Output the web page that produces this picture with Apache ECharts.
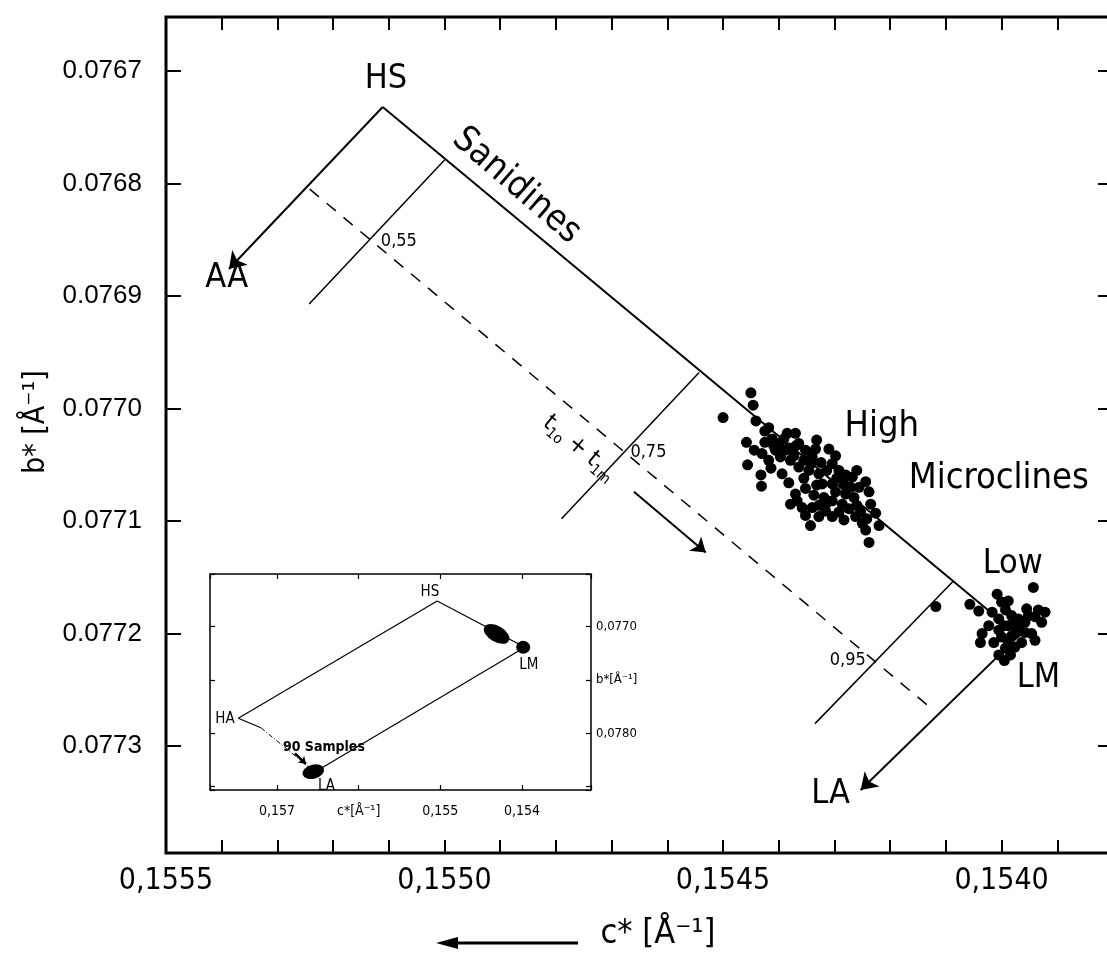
<!DOCTYPE html>
<html>
<head>
<meta charset="utf-8">
<title>b* vs c* - alkali feldspars</title>
<script src="https://cdn.jsdelivr.net/npm/echarts@6/dist/echarts.min.js"></script>
<style>
  html, body { margin: 0; padding: 0; background: #fff; }
  #chart { width: 1107px; height: 955px; }
</style>
</head>
<body>
<div id="chart"></div>
<script>
// ---- data: [c*, b*] in 1/Angstrom ----
const highMicroclines = [
    [0.154450, 0.076986], [0.154446, 0.076997], [0.154500, 0.077008], [0.154425, 0.077020],
    [0.154458, 0.077030], [0.154385, 0.077022], [0.154412, 0.077027], [0.154400, 0.077031],
    [0.154430, 0.077040], [0.154456, 0.077050], [0.154432, 0.077059], [0.154431, 0.077069],
    [0.154418, 0.077046], [0.154397, 0.077043], [0.154394, 0.077058], [0.154379, 0.077046],
    [0.154364, 0.077031], [0.154352, 0.077037], [0.154340, 0.077043], [0.154334, 0.077036],
    [0.154364, 0.077052], [0.154346, 0.077055], [0.154328, 0.077058], [0.154310, 0.077036],
    [0.154298, 0.077042], [0.154304, 0.077049], [0.154292, 0.077055], [0.154280, 0.077059],
    [0.154268, 0.077061], [0.154304, 0.077067], [0.154322, 0.077067], [0.154352, 0.077071],
    [0.154370, 0.077076], [0.154379, 0.077085], [0.154358, 0.077088], [0.154340, 0.077088],
    [0.154352, 0.077095], [0.154343, 0.077104], [0.154328, 0.077096], [0.154316, 0.077091],
    [0.154304, 0.077082], [0.154298, 0.077074], [0.154280, 0.077076], [0.154286, 0.077085],
    [0.154274, 0.077089], [0.154292, 0.077092], [0.154304, 0.077096], [0.154262, 0.077096],
    [0.154250, 0.077102], [0.154244, 0.077108], [0.154244, 0.077065], [0.154238, 0.077074],
    [0.154235, 0.077085], [0.154226, 0.077093], [0.154220, 0.077104], [0.154238, 0.077119],
    [0.154256, 0.077070], [0.154271, 0.077070], [0.154370, 0.077022], [0.154406, 0.077037],
    [0.154388, 0.077037], [0.154409, 0.077033], [0.154382, 0.077035], [0.154373, 0.077042],
    [0.154355, 0.077046], [0.154324, 0.077048], [0.154337, 0.077077], [0.154319, 0.077079],
    [0.154425, 0.077030], [0.154441, 0.077011], [0.154418, 0.077017], [0.154265, 0.077079],
    [0.154260, 0.077086], [0.154332, 0.077028], [0.154283, 0.077067], [0.154391, 0.077027],
    [0.154369, 0.077033], [0.154342, 0.077049], [0.154314, 0.077055], [0.154332, 0.077068],
    [0.154296, 0.077062], [0.154355, 0.077062], [0.154314, 0.077084], [0.154328, 0.077086],
    [0.154283, 0.077099], [0.154253, 0.077092], [0.154260, 0.077055], [0.154414, 0.077053],
    [0.154444, 0.077037], [0.154382, 0.077066], [0.154367, 0.077082], [0.154242, 0.077098]
];
const lowMicroclines = [
    [0.154118, 0.077176], [0.153943, 0.077159], [0.154057, 0.077174], [0.154041, 0.077180],
    [0.154008, 0.077165], [0.154000, 0.077172], [0.153993, 0.077179], [0.154017, 0.077181],
    [0.154005, 0.077187], [0.153982, 0.077184], [0.153970, 0.077187], [0.153955, 0.077178],
    [0.153934, 0.077179], [0.153922, 0.077181], [0.153940, 0.077185], [0.153988, 0.077193],
    [0.153970, 0.077196], [0.153958, 0.077199], [0.153946, 0.077200], [0.153940, 0.077206],
    [0.154035, 0.077200], [0.154038, 0.077208], [0.154014, 0.077208], [0.154000, 0.077203],
    [0.153993, 0.077213], [0.153976, 0.077212], [0.153964, 0.077208], [0.154005, 0.077219],
    [0.153995, 0.077224], [0.153982, 0.077202], [0.154005, 0.077197], [0.153979, 0.077191],
    [0.153958, 0.077190], [0.153988, 0.077171], [0.153928, 0.077190], [0.153984, 0.077219],
    [0.153996, 0.077193], [0.153973, 0.077199], [0.153952, 0.077184], [0.154023, 0.077193],
    [0.153988, 0.077208]
];

// end members of the main diagram
const HS = [0.155111, 0.076732];
const AA = [0.155387, 0.076876];
const LM = [0.153969, 0.077202];
const LA = [0.154253, 0.077339];

// lines of constant t1o + t1m
const isoValues = ['0,55', '0,75', '0,95'];
const isoLines = [
    [[0.155000, 0.076779], [0.155243, 0.076907]],
    [[0.154543, 0.076968], [0.154790, 0.077098]],
    [[0.154086, 0.077153], [0.154335, 0.077280]]
];
const isoLabelCoords = [[0.155082, 0.076851], [0.154634, 0.077039], [0.154276, 0.077224]];
const dashedLine = [[0.155242, 0.076805], [0.154125, 0.077267]];
const trendArrow = [[0.154660, 0.077074], [0.154531, 0.077128]];

const labelNames = ['HS', 'AA', 'Sanidines', 'High', 'Microclines', 'Low', 'LM', 'LA'];
const labelCoords = [
    [0.155105, 0.076707], [0.155391, 0.076884], [0.154871, 0.076802], [0.154215, 0.077016],
    [0.154005, 0.077062], [0.153980, 0.077138], [0.153934, 0.077240], [0.154307, 0.077343]
];
const trendLabelCoord = [0.154758, 0.077035];

// inset: whole feldspar quadrilateral
const insetHS = [0.155038, 0.076759];
const insetLM = [0.153965, 0.077193];
const insetLA = [0.156535, 0.078363];
const insetHA = [0.157474, 0.077859];
const insetHAbreak = [0.157197, 0.077948];
const insetBlobs = [[0.154311, 0.077068], [0.153985, 0.077193], [0.156556, 0.078360]];
const insetLabelNames = ['HS', 'LM', 'HA', 'LA'];
const insetLabelCoords = [[0.155127, 0.076679], [0.153916, 0.077359], [0.157636, 0.077866], [0.156394, 0.078499]];
const samplesText = '90 Samples';
const samplesCoord = [0.156927, 0.078129];
const samplesArrow = [[0.156780, 0.078188], [0.156645, 0.078288]];

// tick labels
const insetXLabels = {157: '0,157', 156: 'c*[Å⁻¹]', 155: '0,155', 154: '0,154'};
const insetYLabels = {154: '0,0770', 155: 'b*[Å⁻¹]', 156: '0,0780'};

const DIN = '"Liberation Sans Narrow", "DejaVu Sans Condensed", "Liberation Sans", sans-serif';
const HELV = '"Liberation Sans", Arial, sans-serif';

function isStep(v, scale) {
    let k = v * scale;
    return Math.abs(k - Math.round(k)) < 1e-6;
}

function mainXLabel(v) {
    if (!isStep(v, 10000) || Math.round(v * 10000) % 5 !== 0) return '';
    return v.toFixed(4).replace('.', ',');
}

function mainYLabel(v) {
    return isStep(v, 10000) ? v.toFixed(4) : '';
}

function insetXLabel(v) {
    return isStep(v, 1000) ? (insetXLabels[Math.round(v * 1000)] || '') : '';
}

function insetYLabel(v) {
    return isStep(v, 2000) ? (insetYLabels[Math.round(v * 2000)] || '') : '';
}

function labelStyle(name) {
    let style = {fontSize: 34};
    if (name === 'Sanidines') style = {fontSize: 36, rotate: -41};
    if (name === 'High' || name === 'Microclines') style = {fontSize: 36};
    return style;
}

function seg(a, b) {
    return {coords: [a, b]};
}

function linesSeries(data, grid, width, extra) {
    return Object.assign({
        type: 'lines',
        coordinateSystem: 'cartesian2d',
        xAxisIndex: grid * 2,
        yAxisIndex: grid * 2,
        silent: true,
        symbol: 'none',
        lineStyle: {color: '#000', width: width, opacity: 1, curveness: 0},
        data: data
    }, extra || {});
}

function textSeries(names, coords, grid, styleFor) {
    return {
        type: 'scatter',
        xAxisIndex: grid * 2,
        yAxisIndex: grid * 2,
        silent: true,
        symbolSize: 0,
        z: 6,
        itemStyle: {opacity: 1, color: '#000'},
        label: {show: true, position: 'inside', formatter: '{b}', color: '#000', fontFamily: DIN},
        data: names.map(function (n, i) {
            let st = Object.assign({color: '#000', fontFamily: DIN, textBorderWidth: 0}, styleFor(n));
            return {name: n, value: coords[i], label: st};
        })
    };
}

function valueAxis(grid, pos, range, extra, labels) {
    let vertical = pos === 'left' || pos === 'right';
    return Object.assign({
        type: 'value',
        gridIndex: grid,
        position: pos,
        min: range[0],
        max: range[1],
        inverse: true,
        scale: true,
        axisLine: {show: false},
        splitLine: {show: false},
        axisTick: {inside: true, length: grid === 0 ? (vertical ? 15 : 13) : 5,
            lineStyle: {color: '#000', width: grid === 0 ? 2 : 1.2}},
        axisLabel: labels ? Object.assign({color: '#000', showMinLabel: true, showMaxLabel: true}, labels)
            : {show: false}
    }, extra || {});
}

let chart = echarts.init(document.getElementById('chart'));

let option = {
    backgroundColor: '#fff',
    animation: false,
    grid: [
        {left: 166, right: -6, top: 17, bottom: 102, show: true, borderColor: '#000', borderWidth: 3,
            outerBoundsMode: 'none', containLabel: false},
        {left: 210, top: 574, width: 381, height: 216, show: true, backgroundColor: '#fff',
            borderColor: '#000', borderWidth: 1.5, outerBoundsMode: 'none', containLabel: false}
    ],
    xAxis: [
        valueAxis(0, 'bottom', [0.1538, 0.1555], {
            interval: 0.0001,
            name: 'c* [Å⁻¹]',
            nameLocation: 'middle',
            nameGap: 64,
            nameTextStyle: {color: '#000', fontFamily: DIN, fontSize: 34, padding: [0, 0, 0, 37]}
        }, {formatter: mainXLabel, fontFamily: DIN, fontSize: 30, margin: 13}),
        valueAxis(0, 'top', [0.1538, 0.1555], {interval: 0.0001}),
        valueAxis(1, 'bottom', [0.153155, 0.15782], {splitNumber: 5},
            {formatter: insetXLabel, fontFamily: DIN, fontSize: 14, margin: 14}),
        valueAxis(1, 'top', [0.153155, 0.15782], {splitNumber: 5})
    ],
    yAxis: [
        valueAxis(0, 'left', [0.076652, 0.077395], {
            splitNumber: 7,
            name: 'b* [Å⁻¹]',
            nameLocation: 'middle',
            nameGap: 112,
            nameTextStyle: {color: '#000', fontFamily: DIN, fontSize: 30, padding: [0, 0, 0, 26]}
        }, {formatter: mainYLabel, fontFamily: HELV, fontSize: 26, margin: 24}),
        valueAxis(0, 'right', [0.076652, 0.077395], {splitNumber: 7}),
        valueAxis(1, 'right', [0.076506, 0.078532], {splitNumber: 4},
            {formatter: insetYLabel, fontFamily: DIN, fontSize: 13, margin: 5, align: 'left'}),
        valueAxis(1, 'left', [0.076506, 0.078532], {splitNumber: 4})
    ],
    graphic: [
        {type: 'line', shape: {x1: 452, y1: 943, x2: 578, y2: 943}, style: {stroke: '#000', lineWidth: 3}},
        {type: 'polygon', shape: {points: [[436, 943], [458, 937], [458, 949]]}, style: {fill: '#000'}}
    ],
    series: [
        // main frame of the diagram
        linesSeries([seg(HS, LM)], 0, 2),
        linesSeries([seg(HS, AA), seg(LM, LA)], 0, 2, {symbol: ['none', 'arrow'], symbolSize: [0, 16]}),
        linesSeries(isoLines.map(function (l) { return seg(l[0], l[1]); }), 0, 1.5),
        linesSeries([seg(dashedLine[0], dashedLine[1])], 0, 1.5,
            {lineStyle: {color: '#000', width: 1.5, opacity: 1, type: [12, 10]}}),
        linesSeries([seg(trendArrow[0], trendArrow[1])], 0, 2, {symbol: ['none', 'arrow'], symbolSize: [0, 14]}),
        {
            name: 'High Microclines',
            type: 'scatter',
            xAxisIndex: 0, yAxisIndex: 0,
            symbolSize: 11,
            itemStyle: {color: '#000', opacity: 1},
            data: highMicroclines
        },
        {
            name: 'Low Microclines',
            type: 'scatter',
            xAxisIndex: 0, yAxisIndex: 0,
            symbolSize: 11,
            itemStyle: {color: '#000', opacity: 1},
            data: lowMicroclines
        },
        textSeries(labelNames, labelCoords, 0, labelStyle),
        textSeries(isoValues, isoLabelCoords, 0, function () { return {fontSize: 18}; }),
        {
            type: 'scatter',
            xAxisIndex: 0, yAxisIndex: 0,
            silent: true,
            symbolSize: 0,
            z: 6,
            itemStyle: {opacity: 1, color: '#000'},
            data: [{
                value: trendLabelCoord,
                label: {
                    show: true,
                    position: 'inside',
                    rotate: -40,
                    color: '#000',
                    formatter: '{a|t}{b|1o}{a| + t}{b|1m}',
                    rich: {
                        a: {fontSize: 24, fontFamily: DIN, color: '#000', lineHeight: 30},
                        b: {fontSize: 15, fontFamily: DIN, color: '#000', lineHeight: 30, verticalAlign: 'bottom'}
                    }
                }
            }]
        },
        // inset
        linesSeries([seg(insetHS, insetLM), seg(insetLM, insetLA), seg(insetHA, insetHS),
            seg(insetHA, insetHAbreak)], 1, 1.2),
        linesSeries([seg(insetHAbreak, insetLA)], 1, 1,
            {lineStyle: {color: '#000', width: 1, opacity: 1, type: [5, 2, 1, 2]}}),
        linesSeries([seg(samplesArrow[0], samplesArrow[1])], 1, 2.5, {symbol: ['none', 'arrow'], symbolSize: [0, 7]}),
        {
            type: 'scatter',
            xAxisIndex: 2, yAxisIndex: 2,
            silent: true,
            itemStyle: {color: '#000', opacity: 1},
            data: [
                {value: insetBlobs[0], symbolSize: [28, 16], symbolRotate: -30},
                {value: insetBlobs[1], symbolSize: [14, 13]},
                {value: insetBlobs[2], symbolSize: [22, 14], symbolRotate: 15}
            ]
        },
        textSeries(insetLabelNames, insetLabelCoords, 1, function () { return {fontSize: 15}; }),
        textSeries([samplesText], [samplesCoord], 1, function () {
            return {fontSize: 14, fontWeight: 'bold', align: 'left'};
        })
    ]
};

chart.setOption(option);
</script>
</body>
</html>
